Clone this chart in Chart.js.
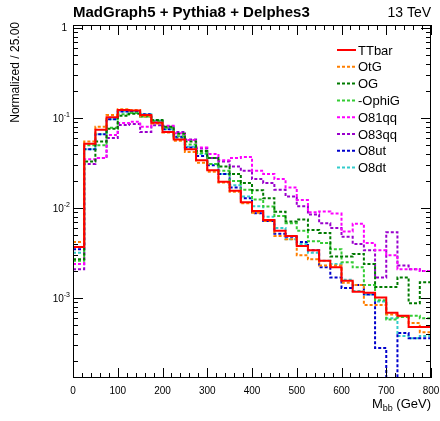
<!DOCTYPE html>
<html>
<head>
<meta charset="utf-8">
<script src="https://cdn.jsdelivr.net/npm/chart.js@4.4.1/dist/chart.umd.min.js"></script>
<style>
  html, body { margin: 0; padding: 0; background: #fff; }
</style>
</head>
<body>
<canvas id="mbb" width="440" height="421"></canvas>
<script>
// ---- DATA: normalized M_bb distributions, 25 GeV bins ----
const binEdges = [0, 25, 50, 75, 100, 125, 150, 175, 200, 225, 250, 275, 300, 325, 350, 375,
                  400, 425, 450, 475, 500, 525, 550, 575, 600, 625, 650, 675, 700, 725, 750, 775, 800];

const ttbar = [0.0037, 0.052, 0.074, 0.102, 0.123, 0.121, 0.108, 0.089, 0.070, 0.058, 0.045, 0.034, 0.0264, 0.0196, 0.0156, 0.0116,
               0.0093, 0.0074, 0.0056, 0.0049, 0.0038, 0.0034, 0.0026, 0.0022, 0.00156, 0.00118, 0.00115, 0.00102, 0.00069, 0.00064, 0.00048, 0.00048];
const otg   = [0.0042, 0.055, 0.080, 0.108, 0.125, 0.123, 0.105, 0.087, 0.069, 0.056, 0.042, 0.032, 0.0253, 0.0192, 0.0152, 0.0113,
               0.0089, 0.0072, 0.0049, 0.0045, 0.0030, 0.0027, 0.0023, 0.0023, 0.00148, 0.00140, 0.00084, 0.00084, 0.00066, 0.00063, 0.00053, 0.00042];
const og    = [0.0027, 0.033, 0.055, 0.076, 0.106, 0.112, 0.104, 0.095, 0.080, 0.067, 0.055, 0.043, 0.036, 0.029, 0.024, 0.019,
               0.0158, 0.0129, 0.0091, 0.0071, 0.0075, 0.0057, 0.0053, 0.0029, 0.0029, 0.0031, 0.0024, 0.00133, 0.00133, 0.0017, 0.00088, 0.0015];
const ophig = [0.0026, 0.050, 0.050, 0.078, 0.110, 0.114, 0.104, 0.093, 0.078, 0.063, 0.051, 0.041, 0.031, 0.026, 0.020, 0.016,
               0.0125, 0.0104, 0.0082, 0.0068, 0.0056, 0.0043, 0.0041, 0.0035, 0.0025, 0.0022, 0.0014, 0.00095, 0.00058, 0.00062, 0.00064, 0.0006];
const o81qq = [0.0024, 0.035, 0.036, 0.065, 0.088, 0.091, 0.080, 0.091, 0.082, 0.068, 0.057, 0.047, 0.040, 0.034, 0.036, 0.037,
               0.026, 0.024, 0.021, 0.017, 0.0123, 0.0090, 0.0092, 0.0087, 0.0055, 0.0067, 0.0041, 0.0034, 0.0030, 0.0021, 0.0021, 0.0020];
const o83qq = [0.0021, 0.031, 0.036, 0.060, 0.084, 0.086, 0.070, 0.083, 0.080, 0.070, 0.058, 0.046, 0.036, 0.033, 0.029, 0.026,
               0.021, 0.019, 0.016, 0.0135, 0.0105, 0.0085, 0.0068, 0.0060, 0.0048, 0.0040, 0.0034, 0.0017, 0.0054, 0.0023, 0.0021, 0.0020];
const o8ut  = [0.0035, 0.045, 0.066, 0.097, 0.118, 0.117, 0.110, 0.092, 0.075, 0.062, 0.047, 0.038, 0.030, 0.024, 0.017, 0.0129,
               0.0088, 0.0072, 0.0052, 0.0048, 0.0042, 0.0034, 0.0022, 0.0017, 0.0013, 0.0014, 0.0011, 0.00028, 0, 0.00041, 0.00036, 0.00036];
const o8dt  = [0.0032, 0.045, 0.066, 0.097, 0.118, 0.118, 0.110, 0.094, 0.075, 0.060, 0.048, 0.040, 0.031, 0.024, 0.018, 0.0135,
               0.0105, 0.0080, 0.0060, 0.0045, 0.0040, 0.0032, 0.0026, 0.0024, 0.0016, 0.0012, 0.0011, 0.00092, 0.00060, 0.00038, 0.00036, 0.00038];

const seriesNames  = ['TTbar', 'OtG', 'OG', '-OphiG', 'O81qq', 'O83qq', 'O8ut', 'O8dt'];
const seriesValues = [ttbar, otg, og, ophig, o81qq, o83qq, o8ut, o8dt];
const seriesColors = ['#ff0000', '#ff7f00', '#007a00', '#33cc33', '#ff00ff', '#9900cc', '#0000cc', '#33cccc'];

const xTickValues = [0, 100, 200, 300, 400, 500, 600, 700, 800];
const yTickValues = [1, 0.1, 0.01, 0.001];
const yTickExp    = ['', '-1', '-2', '-3'];

const Y_MIN = 1.3e-4, Y_MAX = 1.08;
const FONT = '"Liberation Sans", Arial, Helvetica, sans-serif';

// histogram outline: one point per lower bin edge, last value repeated at the upper edge.
// empty bins sit on the frame floor (log axis can't show 0)
function toSteps(vals) {
  return binEdges.map((x, i) => {
    const v = vals[Math.min(i, vals.length - 1)];
    return { x, y: v > 0 ? v : Y_MIN };
  });
}

// ---- ROOT-style frame, inward ticks and texts ----
const rootFrame = {
  id: 'rootFrame',
  afterDraw(chart) {
    const { ctx, chartArea: a, scales } = chart;
    const xs = scales.x, ys = scales.y;
    ctx.save();
    ctx.strokeStyle = '#000';
    ctx.lineWidth = 1;
    ctx.strokeRect(Math.round(a.left) + 0.5, Math.round(a.top) + 0.5,
                   Math.round(a.right - a.left) - 1, Math.round(a.bottom - a.top) - 1);

    ctx.beginPath();
    // x ticks: major every 100, minor every 20
    for (let v = 0; v <= 800; v += 20) {
      const px = Math.round(xs.getPixelForValue(v)) + 0.5;
      const len = v % 100 === 0 ? 10 : 5;
      ctx.moveTo(px, a.bottom); ctx.lineTo(px, a.bottom - len);
      ctx.moveTo(px, a.top);    ctx.lineTo(px, a.top + len);
    }
    // y ticks: decades and 2..9 subdivisions
    for (let e = -4; e <= 0; e++) {
      for (let m = 1; m <= 9; m++) {
        const v = m * Math.pow(10, e);
        if (v < ys.min || v > ys.max) continue;
        const py = Math.round(ys.getPixelForValue(v)) + 0.5;
        const len = m === 1 ? 10 : 5;
        ctx.moveTo(a.left, py);  ctx.lineTo(a.left + len, py);
        ctx.moveTo(a.right, py); ctx.lineTo(a.right - len, py);
      }
    }
    ctx.stroke();

    // y labels: 10 with raised exponent
    ctx.fillStyle = '#000';
    ctx.textBaseline = 'middle';
    yTickValues.forEach((v, i) => {
      const py = ys.getPixelForValue(v);
      if (!yTickExp[i]) {
        ctx.font = '10px ' + FONT;
        ctx.textAlign = 'right';
        ctx.fillText('1', a.left - 6, py);
        return;
      }
      ctx.font = '7px ' + FONT;
      ctx.textAlign = 'right';
      ctx.fillText(yTickExp[i], a.left - 3, py - 3);
      const ew = ctx.measureText(yTickExp[i]).width;
      ctx.font = '10px ' + FONT;
      ctx.fillText('10', a.left - 3 - ew, py + 1);
    });

    // x labels
    ctx.font = '10px ' + FONT;
    ctx.textAlign = 'center';
    xTickValues.forEach(v => ctx.fillText(String(v), xs.getPixelForValue(v), a.bottom + 13));

    // axis titles
    ctx.textAlign = 'left';
    ctx.textBaseline = 'alphabetic';
    ctx.font = '13px ' + FONT;
    const tail = ' (GeV)';
    const wTail = ctx.measureText(tail).width;
    const wM = ctx.measureText('M').width;
    ctx.font = '9px ' + FONT;
    const wSub = ctx.measureText('bb').width;
    const x0 = a.right - wTail - wSub - wM;
    ctx.font = '13px ' + FONT;
    ctx.fillText('M', x0, 408);
    ctx.font = '9px ' + FONT;
    ctx.fillText('bb', x0 + wM, 411);
    ctx.font = '13px ' + FONT;
    ctx.fillText(tail, x0 + wM + wSub, 408);

    ctx.save();
    ctx.translate(19, 22);
    ctx.rotate(-Math.PI / 2);
    ctx.font = '12px ' + FONT;
    ctx.textAlign = 'right';
    ctx.fillText('Normalized / 25.00', 0, 0);
    ctx.restore();

    // header
    ctx.font = 'bold 15px ' + FONT;
    ctx.textAlign = 'left';
    ctx.textBaseline = 'middle';
    ctx.fillText('MadGraph5 + Pythia8 + Delphes3', a.left, 13);
    ctx.font = '14px ' + FONT;
    ctx.textAlign = 'right';
    ctx.fillText('13 TeV', a.right, 13);

    // legend
    ctx.font = '13px ' + FONT;
    ctx.textAlign = 'left';
    chart.data.datasets.forEach((ds, i) => {
      const ly = 50 + i * 16.8;
      ctx.strokeStyle = ds.borderColor;
      ctx.lineWidth = ds.borderWidth;
      ctx.setLineDash(ds.borderDash || []);
      ctx.beginPath();
      ctx.moveTo(337, ly); ctx.lineTo(356, ly);
      ctx.stroke();
      ctx.setLineDash([]);
      ctx.fillStyle = '#000';
      ctx.fillText(ds.label, 358, ly + 1);
    });
    ctx.restore();
  }
};

new Chart(document.getElementById('mbb'), {
  type: 'line',
  data: {
    datasets: seriesNames.map((name, i) => ({
      label: name,
      data: toSteps(seriesValues[i]),
      borderColor: seriesColors[i],
      borderWidth: 2,
      borderDash: i === 0 ? [] : [3, 2],
      stepped: true,
      pointRadius: 0,
      fill: false,
    }))
  },
  options: {
    responsive: false,
    animation: false,
    devicePixelRatio: 1,
    layout: { padding: { top: 25, right: 9, left: 0, bottom: 0 } },
    plugins: { legend: { display: false }, tooltip: { enabled: false } },
    scales: {
      x: {
        type: 'linear', min: 0, max: 800,
        grid: { display: false }, border: { display: false },
        ticks: { display: false },
        afterFit: s => { s.height = 43; },
      },
      y: {
        type: 'logarithmic', min: Y_MIN, max: Y_MAX,
        grid: { display: false }, border: { display: false },
        ticks: { display: false },
        afterFit: s => { s.width = 73; },
      }
    }
  },
  plugins: [rootFrame]
});
</script>
</body>
</html>
